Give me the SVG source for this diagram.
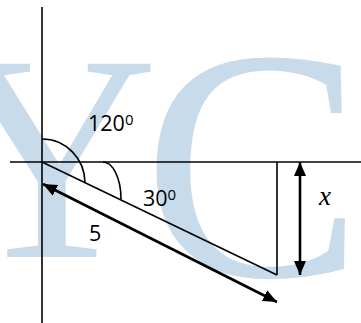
<svg xmlns="http://www.w3.org/2000/svg" width="361" height="323" viewBox="0 0 361 323">
<style>
.wm{font-family:"Liberation Serif",serif;fill:#c8dbeb}
.ln{stroke:#000;stroke-width:1.6;fill:none}
.ar{stroke:#000;stroke-width:2.6;fill:none}
.lb{font-family:"Open Sans","Liberation Sans",sans-serif;font-size:21.5px;fill:#000}
.sup{font-family:"Open Sans","Liberation Sans",sans-serif;font-size:15px;fill:#000}
.var{font-family:"Liberation Serif",serif;font-style:italic;font-size:27px;fill:#000}
</style>
<defs>
<marker id="ah" viewBox="0 0 14 12" refX="14" refY="6" markerWidth="14" markerHeight="12" markerUnits="userSpaceOnUse" orient="auto-start-reverse">
<path d="M0,0 L14,6 L0,12 Z" fill="#000"/>
</marker>
</defs>
<rect width="361" height="323" fill="#fff"/>
<g id="watermark">
<text class="wm" x="-55" y="257" font-size="295">Y</text>
<text class="wm" x="143" y="276" font-size="330">C</text>
</g>
<g id="axes">
<line class="ln" x1="42" y1="7" x2="42" y2="323"/>
<line class="ln" x1="10" y1="162" x2="361" y2="162"/>
</g>
<g id="triangle">
<line class="ln" x1="42" y1="162" x2="277" y2="275"/>
<line class="ln" x1="277" y1="162" x2="277" y2="275"/>
</g>
<g id="angles">
<path class="ln" d="M42,139 A43,44 0 0 1 85,183"/>
<path class="ln" d="M103,162 A18,37 0 0 1 121,199"/>
</g>
<g id="connectors">
<line class="ar" x1="43" y1="184" x2="277" y2="302" marker-start="url(#ah)" marker-end="url(#ah)"/>
<line class="ar" x1="300" y1="162" x2="300" y2="275" marker-start="url(#ah)" marker-end="url(#ah)"/>
</g>
<g id="labels">
<text class="lb" x="88" y="131">120<tspan class="sup" dy="-6.5">0</tspan></text>
<text class="lb" x="143" y="206">30<tspan class="sup" dy="-6.5">0</tspan></text>
<text class="lb" x="89" y="241">5</text>
<text class="var" x="319" y="205">x</text>
</g>
</svg>
